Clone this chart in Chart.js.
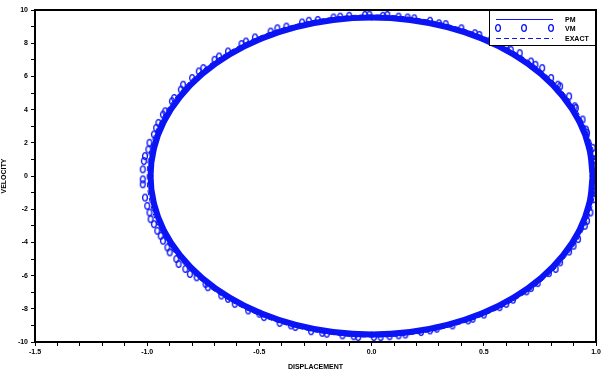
<!DOCTYPE html>
<html>
<head>
<meta charset="utf-8">
<script src="https://cdn.jsdelivr.net/npm/chart.js@4/dist/chart.umd.min.js"></script>
<style>
  html, body { margin: 0; padding: 0; background: #fff; }
  #wrap { width: 606px; height: 371px; position: relative; }
</style>
</head>
<body>
<div id="wrap"><canvas id="c" width="606" height="371"></canvas></div>
<script>
// ── Datos ─────────────────────────────────────────────────────────────────────
const seriesNames = ['PM', 'VM', 'EXACT'];

// PM (línea continua, banda gruesa)
const pmX = [0.985, 0.970, 0.926, 0.853, 0.755, 0.633, 0.493, 0.337, 0.171, 0,
  -0.171, -0.337, -0.493, -0.633, -0.755, -0.853, -0.926, -0.970, -0.985,
  -0.970, -0.926, -0.853, -0.755, -0.633, -0.493, -0.337, -0.171, 0,
  0.171, 0.337, 0.493, 0.633, 0.755, 0.853, 0.926, 0.970, 0.985];
const pmV = [0, 1.66, 3.27, 4.78, 6.14, 7.32, 8.27, 8.97, 9.40, 9.55,
  9.40, 8.97, 8.27, 7.32, 6.14, 4.78, 3.27, 1.66, 0,
  -1.66, -3.27, -4.78, -6.14, -7.32, -8.27, -8.97, -9.40, -9.55,
  -9.40, -8.97, -8.27, -7.32, -6.14, -4.78, -3.27, -1.66, 0];

// VM (marcadores)
const vmX = [0.995, 0.985, 0.96, 0.94, 0.91, 0.88, 0.84, 0.80, 0.76, 0.71, 0.66, 0.60, 0.53, 0.46, 0.40, 0.33, 0.26, 0.19, 0.12, 0.05,
  -0.03, -0.10, -0.17, -0.24, -0.31, -0.38, -0.45, -0.52, -0.58, -0.64, -0.70, -0.75, -0.80, -0.85, -0.89, -0.93, -0.96, -0.99, -1.01, -1.02,
  -1.02, -1.01, -0.99, -0.97, -0.94, -0.91, -0.87, -0.83, -0.78, -0.73, -0.67, -0.61, -0.55, -0.48, -0.41, -0.34, -0.27, -0.20, -0.13, -0.06,
  0.01, 0.08, 0.15, 0.22, 0.29, 0.36, 0.43, 0.50, 0.57, 0.63, 0.69, 0.74, 0.79, 0.84, 0.88, 0.92, 0.95, 0.975, 0.99, 1.0,
  -1.015, -1.02, -1.00, -0.995, -0.985, -0.97, -0.955, -0.95, -0.92, -0.93, -0.90, -0.88, -0.86, -0.84, -0.81, -0.77, -0.74, -0.68, -0.64, -0.56,
  -0.50, -0.42, -0.36, -0.28, -0.22, -0.14, -0.08, -0.01,
  0.07, 0.04, 0.16, 0.12, 0.30, 0.26, 0.48, 0.45, 0.62, 0.60, 0.73, 0.71, 0.83, 0.82, 0.905, 0.90, 0.955, 0.96, 0.99, 0.995];
const vmV = [0.6, 1.7, 2.6, 3.4, 4.1, 4.8, 5.4, 5.9, 6.5, 6.9, 7.4, 7.8, 8.2, 8.6, 8.9, 9.15, 9.35, 9.5, 9.6, 9.65,
  9.7, 9.65, 9.55, 9.4, 9.25, 9.0, 8.7, 8.35, 7.95, 7.5, 7.0, 6.5, 5.9, 5.2, 4.5, 3.7, 2.9, 2.0, 1.2, 0.4,
  -0.5, -1.3, -2.2, -2.9, -3.6, -4.3, -5.0, -5.6, -6.1, -6.7, -7.2, -7.7, -8.1, -8.5, -8.85, -9.1, -9.35, -9.5, -9.6, -9.7,
  -9.7, -9.65, -9.55, -9.4, -9.2, -9.0, -8.7, -8.35, -7.9, -7.45, -6.95, -6.45, -5.85, -5.2, -4.55, -3.8, -3.0, -2.2, -1.4, -0.6,
  0.9, -0.2, -1.8, 1.6, -2.6, 2.5, -3.3, 3.2, 3.9, -3.9, -4.6, 4.7, -5.3, 5.5, -5.9, 6.3, -6.5, 7.2, -7.4, 8.1,
  -8.3, 8.9, -9.0, 9.35, -9.45, 9.6, -9.65, 9.72,
  9.7, -9.7, 9.55, -9.6, 9.2, -9.3, 8.5, -8.6, 7.6, -7.7, 6.7, -6.75, 5.5, -5.6, 4.2, -4.2, 2.8, -2.7, 1.0, -1.0];

// EXACT (discontinua)
const exX = [1, 0.985, 0.940, 0.866, 0.766, 0.643, 0.5, 0.342, 0.174, 0,
  -0.174, -0.342, -0.5, -0.643, -0.766, -0.866, -0.940, -0.985, -1,
  -0.985, -0.940, -0.866, -0.766, -0.643, -0.5, -0.342, -0.174, 0,
  0.174, 0.342, 0.5, 0.643, 0.766, 0.866, 0.940, 0.985, 1];
const exV = [0, 1.68, 3.32, 4.85, 6.24, 7.43, 8.40, 9.11, 9.55, 9.7,
  9.55, 9.11, 8.40, 7.43, 6.24, 4.85, 3.32, 1.68, 0,
  -1.68, -3.32, -4.85, -6.24, -7.43, -8.40, -9.11, -9.55, -9.7,
  -9.55, -9.11, -8.40, -7.43, -6.24, -4.85, -3.32, -1.68, 0];

// Ejes
const xMin = -1.5, xMax = 1.0, xStep = 0.1;
const yMin = -10, yMax = 10, yStep = 1;

// ── Estilos ───────────────────────────────────────────────────────────────────
const BLUE = '#0a14f5';
const FONT = { family: "'Liberation Sans Narrow', 'Liberation Sans', Arial, sans-serif", size: 7, weight: 'bold' };

// marcador ovalado abierto
function ovalMarker() {
  const c = document.createElement('canvas');
  c.width = 8; c.height = 10;
  const g = c.getContext('2d');
  g.strokeStyle = BLUE;
  g.lineWidth = 1.3;
  g.beginPath();
  g.ellipse(4, 5, 2.4, 3.4, 0, 0, Math.PI * 2);
  g.stroke();
  return c;
}
const oval = ovalMarker();

const zip = (xs, ys) => xs.map((x, i) => ({ x, y: ys[i] }));

// ── Plugins: marco y leyenda ──────────────────────────────────────────────────
const framePlugin = {
  id: 'frame',
  beforeDraw(chart) {
    const ctx = chart.ctx;
    ctx.save();
    ctx.fillStyle = '#fff';
    ctx.fillRect(0, 0, chart.width, chart.height);
    ctx.restore();
  },
  afterDraw(chart) {
    const { ctx, chartArea: a } = chart;
    ctx.save();
    ctx.strokeStyle = '#000';
    ctx.lineWidth = 2;
    ctx.strokeRect(a.left, a.top, a.right - a.left, a.bottom - a.top);

    // leyenda
    const bx = 489, by = 10, bw = a.right - bx, bh = 35;
    ctx.fillStyle = '#fff';
    ctx.fillRect(bx, by, bw, bh);
    ctx.lineWidth = 1;
    ctx.strokeRect(bx + 0.5, by + 0.5, bw - 1, bh);
    ctx.strokeStyle = BLUE;
    ctx.beginPath(); ctx.moveTo(496, 19.5); ctx.lineTo(553, 19.5); ctx.stroke();
    [498, 524, 551].forEach(x => ctx.drawImage(oval, x - 4, 28 - 5));
    ctx.setLineDash([5, 3]);
    ctx.beginPath(); ctx.moveTo(496, 38.5); ctx.lineTo(553, 38.5); ctx.stroke();
    ctx.setLineDash([]);
    ctx.fillStyle = '#000';
    ctx.font = `${FONT.weight} ${FONT.size}px ${FONT.family}`;
    ctx.textBaseline = 'middle';
    seriesNames.forEach((n, i) => ctx.fillText(n, 565, 20 + i * 9.5));
    ctx.restore();
  }
};

// ── Chart ─────────────────────────────────────────────────────────────────────
new Chart(document.getElementById('c'), {
  type: 'line',
  data: {
    datasets: [
      { label: 'PM', data: zip(pmX, pmV), borderColor: BLUE, borderWidth: 6, borderJoinStyle: 'round', pointStyle: 'cross', pointRadius: 3, pointBorderColor: BLUE, pointBorderWidth: 1.5, fill: false, tension: 0.4 },
      { label: 'VM', data: zip(vmX, vmV), showLine: false, pointStyle: oval, pointRadius: 4 },
      { label: 'EXACT', data: zip(exX, exV), borderColor: BLUE, borderWidth: 1, borderDash: [5, 3], pointRadius: 0, fill: false, tension: 0.4 },
    ],
  },
  options: {
    responsive: false,
    animation: false,
    devicePixelRatio: 1,
    layout: { padding: { top: 10, right: 10, left: 0, bottom: 0 } },
    plugins: { legend: { display: false }, tooltip: { enabled: false } },
    scales: {
      x: {
        type: 'linear', min: xMin, max: xMax,
        afterFit: s => { s.height = 29; },
        border: { color: '#000', width: 2 },
        grid: { drawOnChartArea: false, drawTicks: true, tickLength: 4, color: '#000', lineWidth: 1 },
        ticks: {
          stepSize: xStep, autoSkip: false, maxRotation: 0, color: '#000', font: FONT, padding: 2,
          callback: v => (Math.round(v * 10) % 5 === 0 ? v.toFixed(1) : ''),
        },
        title: { display: true, text: 'DISPLACEMENT', color: '#000', font: FONT, padding: { top: 2, bottom: 0 } },
      },
      y: {
        type: 'linear', min: yMin, max: yMax,
        afterFit: s => { s.width = 35; },
        border: { color: '#000', width: 2 },
        grid: { drawOnChartArea: false, drawTicks: true, tickLength: 4, color: '#000', lineWidth: 1 },
        ticks: {
          stepSize: yStep, autoSkip: false, color: '#000', font: FONT, padding: 3,
          callback: v => (Math.round(v) % 2 === 0 ? String(Math.round(v)) : ''),
        },
        title: { display: true, text: 'VELOCITY', color: '#000', font: FONT, padding: { top: 0, bottom: 4 } },
      },
    },
  },
  plugins: [framePlugin],
});
</script>
</body>
</html>
